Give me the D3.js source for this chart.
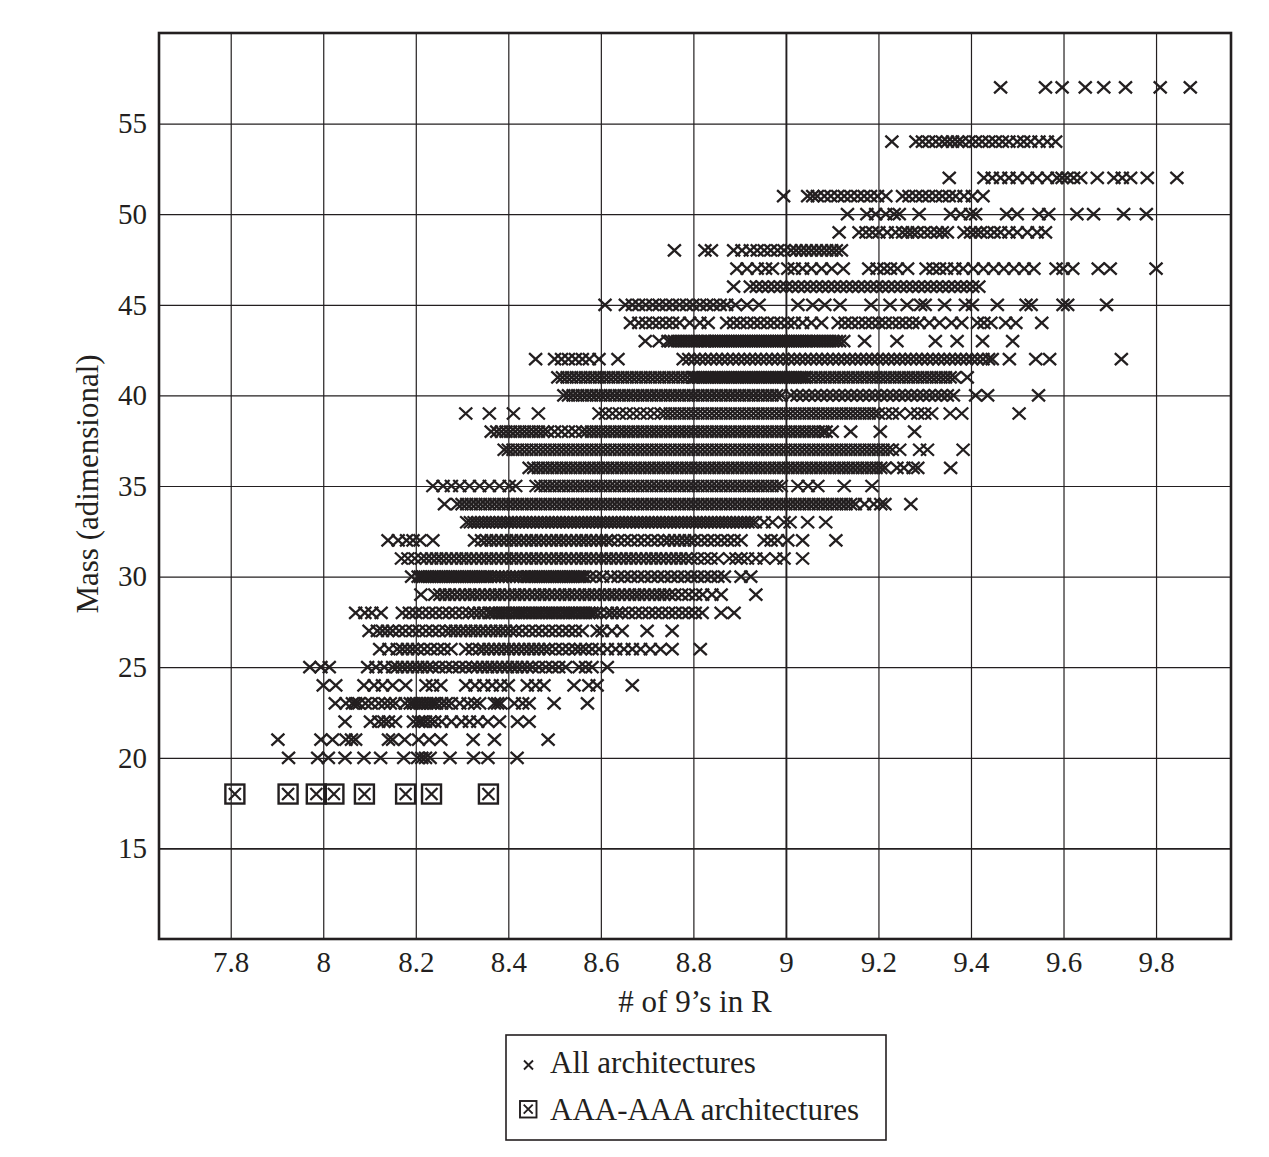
<!doctype html>
<html lang="en">
<head>
    <meta charset="UTF-8">
    <title>Mass vs # of 9's in R</title>
    <script src="https://d3js.org/d3.v7.min.js"></script>
    <style>
        body { margin: 0; background: #fff; }
    </style>
</head>
<body>
<div id="chart-area"></div>

<script>

// tick labels
const xTicks = [7.8, 8, 8.2, 8.4, 8.6, 8.8, 9, 9.2, 9.4, 9.6, 9.8];
const yTicks = [15, 20, 25, 30, 35, 40, 45, 50, 55];

// mass rows (integer masses) and the "# of 9's" of every architecture on that row
const massLevels = [20, 21, 22, 23, 24, 25, 26, 27, 28, 29, 30, 31, 32, 33, 34, 35, 36, 37, 38, 39,
    40, 41, 42, 43, 44, 45, 46, 47, 48, 49, 50, 51, 52, 54, 57];

const ninesPerMass = [
    // 20
    [7.925, 7.988, 8.011, 8.047, 8.088, 8.124, 8.174, 8.204, 8.213, 8.221, 8.231, 8.274, 8.325, 8.356, 8.419],
    // 21
    [7.902, 7.995, 8.02, 8.049, 8.061, 8.07, 8.141, 8.15, 8.176, 8.206, 8.229, 8.254, 8.324, 8.37, 8.486],
    // 22
    [8.047, 8.102, 8.12, 8.131, 8.141, 8.156, 8.195, 8.206, 8.213, 8.221, 8.231, 8.241, 8.256, 8.277, 8.299,
        8.316, 8.334, 8.356, 8.381, 8.42, 8.445],
    // 23
    [8.026, 8.049, 8.063, 8.07, 8.077, 8.091, 8.104, 8.12, 8.133, 8.145, 8.156, 8.177, 8.188, 8.195, 8.202,
        8.209, 8.216, 8.224, 8.231, 8.238, 8.245, 8.256, 8.266, 8.277, 8.295, 8.313, 8.327, 8.338, 8.37, 8.377,
        8.384, 8.413, 8.431, 8.445, 8.499, 8.571],
    // 24
    [8.0, 8.027, 8.088, 8.11, 8.128, 8.15, 8.178, 8.222, 8.236, 8.254, 8.308, 8.328, 8.347, 8.365, 8.383,
        8.4, 8.441, 8.459, 8.477, 8.542, 8.574, 8.592, 8.668],
    // 25
    [7.971, 7.995, 8.013, 8.096, 8.114, 8.132, 8.15, 8.16, 8.171, 8.182, 8.193, 8.204, 8.214, 8.225, 8.236,
        8.25, 8.265, 8.279, 8.294, 8.308, 8.322, 8.333, 8.344, 8.355, 8.365, 8.376, 8.387, 8.398, 8.409, 8.419,
        8.43, 8.441, 8.452, 8.466, 8.481, 8.495, 8.509, 8.524, 8.553, 8.567, 8.581, 8.614],
    // 26
    [8.122, 8.142, 8.16, 8.171, 8.182, 8.193, 8.204, 8.218, 8.232, 8.247, 8.261, 8.276, 8.308, 8.322, 8.337,
        8.347, 8.358, 8.369, 8.38, 8.391, 8.401, 8.412, 8.423, 8.434, 8.445, 8.455, 8.466, 8.477, 8.488, 8.502,
        8.517, 8.531, 8.545, 8.556, 8.567, 8.581, 8.596, 8.614, 8.632, 8.65, 8.668, 8.686, 8.707, 8.729, 8.754,
        8.815],
    // 27
    [8.099, 8.117, 8.128, 8.139, 8.15, 8.164, 8.178, 8.193, 8.207, 8.222, 8.236, 8.25, 8.265, 8.276, 8.286,
        8.297, 8.308, 8.319, 8.329, 8.34, 8.351, 8.362, 8.373, 8.383, 8.394, 8.405, 8.416, 8.43, 8.445, 8.459,
        8.473, 8.488, 8.502, 8.517, 8.531, 8.545, 8.56, 8.592, 8.603, 8.624, 8.646, 8.7, 8.754],
    // 28
    [8.07, 8.09, 8.105, 8.125, 8.171, 8.186, 8.2, 8.214, 8.229, 8.243, 8.258, 8.272, 8.286, 8.301, 8.315,
        8.326, 8.337, 8.347, 8.358, 8.365, 8.373, 8.38, 8.387, 8.394, 8.401, 8.409, 8.416, 8.423, 8.43, 8.437,
        8.445, 8.452, 8.459, 8.466, 8.473, 8.481, 8.488, 8.495, 8.502, 8.509, 8.517, 8.524, 8.531, 8.538, 8.545,
        8.553, 8.56, 8.567, 8.574, 8.581, 8.588, 8.599, 8.614, 8.624, 8.635, 8.646, 8.66, 8.675, 8.689, 8.704,
        8.718, 8.732, 8.747, 8.761, 8.776, 8.79, 8.804, 8.819, 8.86, 8.888],
    // 29
    [8.211, 8.241, 8.252, 8.263, 8.273, 8.284, 8.295, 8.306, 8.317, 8.327, 8.338, 8.349, 8.36, 8.371, 8.381,
        8.392, 8.403, 8.414, 8.424, 8.435, 8.446, 8.457, 8.468, 8.478, 8.489, 8.5, 8.511, 8.522, 8.532, 8.543,
        8.554, 8.565, 8.575, 8.586, 8.597, 8.608, 8.619, 8.629, 8.64, 8.651, 8.662, 8.673, 8.683, 8.694, 8.705,
        8.716, 8.727, 8.737, 8.748, 8.76, 8.775, 8.79, 8.805, 8.82, 8.84, 8.86, 8.935],
    // 30
    [8.191, 8.205, 8.21, 8.215, 8.22, 8.225, 8.23, 8.235, 8.24, 8.245, 8.25, 8.255, 8.26, 8.265, 8.27,
        8.275, 8.28, 8.285, 8.29, 8.295, 8.3, 8.305, 8.31, 8.315, 8.32, 8.325, 8.33, 8.335, 8.34, 8.345,
        8.35, 8.355, 8.362, 8.37, 8.378, 8.386, 8.394, 8.402, 8.41, 8.418, 8.426, 8.434, 8.44, 8.445, 8.45,
        8.455, 8.46, 8.465, 8.47, 8.475, 8.48, 8.485, 8.49, 8.495, 8.5, 8.505, 8.51, 8.515, 8.52, 8.525,
        8.53, 8.535, 8.54, 8.545, 8.55, 8.555, 8.56, 8.565, 8.576, 8.59, 8.604, 8.622, 8.637, 8.651, 8.665,
        8.68, 8.694, 8.709, 8.723, 8.737, 8.752, 8.766, 8.781, 8.795, 8.809, 8.824, 8.838, 8.853, 8.867, 8.903,
        8.924],
    // 31
    [8.169, 8.183, 8.198, 8.212, 8.223, 8.234, 8.245, 8.255, 8.266, 8.277, 8.288, 8.299, 8.309, 8.32, 8.331,
        8.342, 8.353, 8.363, 8.374, 8.385, 8.396, 8.407, 8.417, 8.428, 8.439, 8.45, 8.46, 8.471, 8.482, 8.493,
        8.504, 8.514, 8.525, 8.536, 8.547, 8.558, 8.568, 8.579, 8.59, 8.601, 8.612, 8.622, 8.633, 8.644, 8.655,
        8.665, 8.676, 8.687, 8.698, 8.709, 8.719, 8.73, 8.741, 8.752, 8.763, 8.773, 8.784, 8.795, 8.809, 8.824,
        8.838, 8.853, 8.878, 8.892, 8.903, 8.917, 8.935, 8.953, 8.978, 8.996, 9.036],
    // 32
    [8.14, 8.162, 8.18, 8.194, 8.209, 8.237, 8.327, 8.342, 8.353, 8.363, 8.374, 8.385, 8.396, 8.407, 8.417,
        8.428, 8.439, 8.45, 8.46, 8.471, 8.482, 8.493, 8.504, 8.514, 8.525, 8.536, 8.547, 8.558, 8.568, 8.579,
        8.59, 8.601, 8.612, 8.622, 8.637, 8.651, 8.665, 8.68, 8.694, 8.709, 8.723, 8.737, 8.748, 8.759, 8.77,
        8.781, 8.791, 8.802, 8.817, 8.831, 8.845, 8.86, 8.874, 8.888, 8.903, 8.953, 8.968, 8.982, 9.004, 9.036,
        9.108],
    // 33
    [8.31, 8.318, 8.326, 8.334, 8.342, 8.35, 8.358, 8.366, 8.374, 8.382, 8.39, 8.398, 8.406, 8.414, 8.422,
        8.43, 8.438, 8.446, 8.454, 8.462, 8.47, 8.478, 8.486, 8.494, 8.502, 8.51, 8.518, 8.526, 8.534, 8.542,
        8.55, 8.558, 8.566, 8.574, 8.582, 8.59, 8.598, 8.606, 8.614, 8.622, 8.63, 8.638, 8.646, 8.654, 8.662,
        8.67, 8.678, 8.686, 8.694, 8.702, 8.71, 8.718, 8.726, 8.734, 8.742, 8.75, 8.758, 8.766, 8.774, 8.782,
        8.79, 8.798, 8.806, 8.814, 8.822, 8.83, 8.838, 8.846, 8.854, 8.862, 8.87, 8.878, 8.886, 8.894, 8.902,
        8.91, 8.918, 8.926, 8.934, 8.953, 8.971, 8.996, 9.009, 9.047, 9.086],
    // 34
    [8.262, 8.29, 8.3, 8.31, 8.32, 8.33, 8.34, 8.35, 8.36, 8.37, 8.38, 8.39, 8.4, 8.41, 8.42,
        8.43, 8.44, 8.45, 8.46, 8.47, 8.48, 8.49, 8.5, 8.51, 8.52, 8.53, 8.54, 8.55, 8.56, 8.57,
        8.58, 8.59, 8.6, 8.61, 8.62, 8.63, 8.64, 8.65, 8.66, 8.67, 8.68, 8.69, 8.7, 8.71, 8.72,
        8.73, 8.74, 8.75, 8.76, 8.77, 8.78, 8.79, 8.8, 8.81, 8.82, 8.83, 8.84, 8.85, 8.86, 8.87,
        8.88, 8.89, 8.9, 8.91, 8.92, 8.93, 8.94, 8.95, 8.96, 8.97, 8.98, 8.99, 9, 9.01, 9.02,
        9.03, 9.04, 9.05, 9.06, 9.07, 9.08, 9.09, 9.1, 9.11, 9.12, 9.13, 9.14, 9.15, 9.17, 9.19,
        9.205, 9.214, 9.27],
    // 35
    [8.237, 8.259, 8.277, 8.295, 8.316, 8.338, 8.359, 8.381, 8.402, 8.416, 8.46, 8.47, 8.48, 8.49, 8.5,
        8.51, 8.52, 8.53, 8.54, 8.55, 8.56, 8.57, 8.58, 8.59, 8.6, 8.61, 8.62, 8.63, 8.64, 8.65,
        8.66, 8.67, 8.68, 8.69, 8.7, 8.71, 8.72, 8.73, 8.74, 8.75, 8.76, 8.77, 8.78, 8.79, 8.8,
        8.81, 8.82, 8.83, 8.84, 8.85, 8.86, 8.87, 8.88, 8.89, 8.9, 8.91, 8.92, 8.93, 8.94, 8.95,
        8.96, 8.97, 8.98, 8.99, 9.026, 9.048, 9.069, 9.126, 9.186],
    // 36
    [8.445, 8.455, 8.465, 8.475, 8.485, 8.495, 8.505, 8.515, 8.525, 8.535, 8.545, 8.555, 8.565, 8.575, 8.585,
        8.595, 8.605, 8.615, 8.625, 8.635, 8.645, 8.655, 8.665, 8.675, 8.685, 8.695, 8.705, 8.715, 8.725, 8.735,
        8.745, 8.755, 8.765, 8.775, 8.785, 8.795, 8.805, 8.815, 8.825, 8.835, 8.845, 8.855, 8.865, 8.875, 8.885,
        8.895, 8.905, 8.915, 8.925, 8.935, 8.945, 8.955, 8.965, 8.975, 8.985, 8.995, 9.005, 9.015, 9.025, 9.035,
        9.045, 9.055, 9.065, 9.075, 9.085, 9.095, 9.105, 9.115, 9.125, 9.135, 9.145, 9.155, 9.165, 9.175, 9.185,
        9.195, 9.205, 9.214, 9.24, 9.255, 9.275, 9.285, 9.356],
    // 37
    [8.391, 8.4, 8.41, 8.42, 8.43, 8.44, 8.45, 8.46, 8.47, 8.48, 8.49, 8.5, 8.51, 8.52, 8.53,
        8.54, 8.55, 8.56, 8.57, 8.58, 8.59, 8.6, 8.61, 8.62, 8.63, 8.64, 8.65, 8.66, 8.67, 8.68,
        8.69, 8.7, 8.71, 8.72, 8.73, 8.74, 8.75, 8.76, 8.77, 8.78, 8.79, 8.8, 8.81, 8.82, 8.83,
        8.84, 8.85, 8.86, 8.87, 8.88, 8.89, 8.9, 8.91, 8.92, 8.93, 8.94, 8.95, 8.96, 8.97, 8.98,
        8.99, 9, 9.01, 9.02, 9.03, 9.04, 9.05, 9.06, 9.07, 9.08, 9.09, 9.1, 9.11, 9.12, 9.13,
        9.14, 9.15, 9.16, 9.17, 9.18, 9.19, 9.2, 9.21, 9.22, 9.23, 9.246, 9.289, 9.306, 9.383],
    // 38
    [8.363, 8.375, 8.385, 8.395, 8.405, 8.415, 8.425, 8.435, 8.445, 8.455, 8.465, 8.475, 8.485, 8.5, 8.515,
        8.53, 8.545, 8.56, 8.57, 8.58, 8.59, 8.6, 8.61, 8.62, 8.63, 8.64, 8.65, 8.66, 8.67, 8.68,
        8.69, 8.7, 8.71, 8.72, 8.73, 8.74, 8.75, 8.76, 8.77, 8.78, 8.79, 8.8, 8.81, 8.82, 8.83,
        8.84, 8.85, 8.86, 8.87, 8.88, 8.89, 8.9, 8.91, 8.92, 8.93, 8.94, 8.95, 8.96, 8.97, 8.98,
        8.99, 9, 9.01, 9.02, 9.03, 9.04, 9.05, 9.06, 9.07, 9.08, 9.087, 9.1, 9.14, 9.204, 9.278],
    // 39
    [8.308, 8.359, 8.411, 8.465, 8.596, 8.61, 8.625, 8.64, 8.655, 8.67, 8.685, 8.7, 8.715, 8.73, 8.74,
        8.75, 8.76, 8.77, 8.78, 8.79, 8.8, 8.81, 8.82, 8.83, 8.84, 8.85, 8.86, 8.87, 8.88, 8.89,
        8.9, 8.91, 8.92, 8.93, 8.94, 8.95, 8.96, 8.97, 8.98, 8.99, 9, 9.01, 9.02, 9.03, 9.04,
        9.05, 9.06, 9.07, 9.08, 9.09, 9.1, 9.11, 9.12, 9.13, 9.14, 9.15, 9.16, 9.17, 9.18, 9.19,
        9.2, 9.215, 9.23, 9.245, 9.27, 9.285, 9.3, 9.315, 9.355, 9.38, 9.504],
    // 40
    [8.52, 8.53, 8.54, 8.55, 8.56, 8.57, 8.58, 8.59, 8.6, 8.61, 8.62, 8.63, 8.64, 8.65, 8.66,
        8.67, 8.68, 8.69, 8.7, 8.71, 8.72, 8.73, 8.74, 8.75, 8.76, 8.77, 8.78, 8.79, 8.8, 8.81,
        8.82, 8.83, 8.84, 8.85, 8.86, 8.87, 8.88, 8.89, 8.9, 8.91, 8.92, 8.93, 8.94, 8.95, 8.96,
        8.97, 8.98, 8.99, 9.011, 9.024, 9.037, 9.05, 9.063, 9.076, 9.089, 9.102, 9.115, 9.128, 9.141, 9.154,
        9.167, 9.18, 9.193, 9.206, 9.219, 9.232, 9.245, 9.258, 9.271, 9.284, 9.297, 9.31, 9.323, 9.336, 9.349,
        9.362, 9.41, 9.436, 9.546],
    // 41
    [8.507, 8.517, 8.527, 8.537, 8.547, 8.557, 8.567, 8.577, 8.587, 8.597, 8.607, 8.617, 8.627, 8.637, 8.647,
        8.657, 8.667, 8.677, 8.687, 8.697, 8.707, 8.717, 8.727, 8.737, 8.747, 8.757, 8.767, 8.777, 8.787, 8.797,
        8.8, 8.805, 8.81, 8.815, 8.82, 8.825, 8.83, 8.835, 8.84, 8.845, 8.85, 8.855, 8.86, 8.865, 8.87,
        8.875, 8.88, 8.885, 8.89, 8.895, 8.9, 8.905, 8.91, 8.915, 8.92, 8.925, 8.93, 8.935, 8.94, 8.945,
        8.95, 8.955, 8.96, 8.965, 8.97, 8.975, 8.98, 8.985, 8.99, 8.995, 9, 9.005, 9.01, 9.015, 9.02,
        9.025, 9.03, 9.035, 9.04, 9.045, 9.055, 9.065, 9.075, 9.085, 9.095, 9.105, 9.115, 9.125, 9.135, 9.145,
        9.155, 9.165, 9.175, 9.185, 9.195, 9.205, 9.215, 9.225, 9.235, 9.245, 9.255, 9.265, 9.275, 9.285, 9.295,
        9.305, 9.315, 9.325, 9.335, 9.345, 9.355, 9.365, 9.392],
    // 42
    [8.459, 8.5, 8.515, 8.53, 8.545, 8.56, 8.575, 8.596, 8.637, 8.778, 8.79, 8.802, 8.814, 8.826, 8.838,
        8.85, 8.862, 8.874, 8.886, 8.898, 8.91, 8.922, 8.934, 8.946, 8.958, 8.97, 8.982, 8.994, 9.006, 9.018,
        9.03, 9.042, 9.054, 9.066, 9.078, 9.09, 9.102, 9.114, 9.126, 9.138, 9.15, 9.162, 9.174, 9.186, 9.198,
        9.21, 9.222, 9.234, 9.246, 9.258, 9.27, 9.282, 9.294, 9.306, 9.318, 9.33, 9.342, 9.354, 9.366, 9.378,
        9.39, 9.402, 9.414, 9.426, 9.438, 9.446, 9.483, 9.54, 9.57, 9.725],
    // 43
    [8.696, 8.726, 8.745, 8.752, 8.759, 8.766, 8.773, 8.78, 8.787, 8.794, 8.801, 8.808, 8.815, 8.822, 8.825,
        8.83, 8.835, 8.84, 8.845, 8.85, 8.855, 8.86, 8.865, 8.87, 8.875, 8.88, 8.885, 8.89, 8.895, 8.9,
        8.905, 8.91, 8.915, 8.92, 8.925, 8.93, 8.935, 8.94, 8.945, 8.95, 8.955, 8.96, 8.965, 8.97, 8.975,
        8.98, 8.985, 8.99, 8.995, 9, 9.005, 9.01, 9.015, 9.02, 9.025, 9.03, 9.035, 9.04, 9.045, 9.05,
        9.055, 9.06, 9.067, 9.074, 9.081, 9.088, 9.095, 9.102, 9.109, 9.116, 9.125, 9.17, 9.24, 9.323, 9.37,
        9.425, 9.49],
    // 44
    [8.664, 8.682, 8.697, 8.712, 8.726, 8.741, 8.755, 8.77, 8.792, 8.814, 8.832, 8.872, 8.887, 8.901, 8.916,
        8.931, 8.945, 8.96, 8.974, 8.989, 9.004, 9.018, 9.036, 9.055, 9.077, 9.113, 9.128, 9.142, 9.157, 9.172,
        9.186, 9.201, 9.215, 9.23, 9.245, 9.259, 9.274, 9.288, 9.31, 9.332, 9.358, 9.38, 9.414, 9.428, 9.443,
        9.475, 9.497, 9.553],
    // 45
    [8.609, 8.653, 8.668, 8.682, 8.697, 8.712, 8.726, 8.741, 8.755, 8.77, 8.785, 8.799, 8.814, 8.829, 8.843,
        8.858, 8.872, 8.891, 8.916, 8.942, 9.026, 9.058, 9.084, 9.117, 9.184, 9.225, 9.262, 9.291, 9.301, 9.343,
        9.388, 9.403, 9.457, 9.519, 9.53, 9.599, 9.609, 9.693],
    // 46
    [8.887, 8.923, 8.936, 8.949, 8.962, 8.975, 8.988, 9.001, 9.014, 9.027, 9.04, 9.053, 9.066, 9.079, 9.092,
        9.105, 9.118, 9.131, 9.144, 9.157, 9.17, 9.183, 9.196, 9.209, 9.222, 9.235, 9.248, 9.261, 9.274, 9.287,
        9.3, 9.313, 9.326, 9.339, 9.352, 9.365, 9.378, 9.391, 9.404, 9.417],
    // 47
    [8.894, 8.916, 8.938, 8.956, 8.971, 9.004, 9.018, 9.036, 9.055, 9.077, 9.099, 9.124, 9.179, 9.197, 9.212,
        9.226, 9.241, 9.263, 9.303, 9.318, 9.332, 9.347, 9.365, 9.383, 9.405, 9.427, 9.449, 9.471, 9.493, 9.515,
        9.536, 9.584, 9.599, 9.62, 9.675, 9.701, 9.8],
    // 48
    [8.759, 8.825, 8.839, 8.887, 8.905, 8.923, 8.938, 8.953, 8.967, 8.982, 8.996, 9.011, 9.022, 9.033, 9.044,
        9.055, 9.066, 9.077, 9.088, 9.099, 9.109, 9.12],
    // 49
    [9.115, 9.158, 9.173, 9.187, 9.201, 9.219, 9.237, 9.252, 9.263, 9.273, 9.284, 9.299, 9.313, 9.327, 9.338,
        9.349, 9.385, 9.399, 9.41, 9.421, 9.435, 9.45, 9.464, 9.482, 9.5, 9.522, 9.543, 9.561],
    // 50
    [9.133, 9.175, 9.194, 9.216, 9.234, 9.245, 9.288, 9.356, 9.378, 9.399, 9.41, 9.477, 9.5, 9.547, 9.568,
        9.629, 9.665, 9.73, 9.779],
    // 51
    [8.995, 9.047, 9.058, 9.068, 9.083, 9.097, 9.112, 9.126, 9.14, 9.155, 9.169, 9.183, 9.198, 9.216, 9.252,
        9.266, 9.281, 9.295, 9.309, 9.324, 9.338, 9.353, 9.367, 9.385, 9.403, 9.426],
    // 52
    [9.353, 9.428, 9.446, 9.464, 9.482, 9.5, 9.522, 9.543, 9.565, 9.586, 9.597, 9.608, 9.622, 9.637, 9.673,
        9.709, 9.727, 9.745, 9.781, 9.845],
    // 54
    [9.229, 9.281, 9.295, 9.309, 9.324, 9.338, 9.349, 9.36, 9.371, 9.381, 9.396, 9.41, 9.424, 9.439, 9.453,
        9.468, 9.482, 9.5, 9.514, 9.529, 9.547, 9.565, 9.583],
    // 57
    [9.464, 9.561, 9.597, 9.647, 9.687, 9.734, 9.809, 9.874],
];

// AAA-AAA architectures, all at mass 18
const aaaMass = 18;
const aaaNines = [7.809, 7.924, 7.985, 8.023, 8.089, 8.178, 8.234, 8.357];

const legendLabels = ['All architectures', 'AAA-AAA architectures'];

const ink = '#231f20';
const serif = '"Liberation Serif", "DejaVu Serif", serif';

const margin = { top: 33, right: 38, bottom: 218, left: 159 };
const chartW = 1269 - margin.left - margin.right;
const chartH = 1157 - margin.top - margin.bottom;

const svg = d3.select('#chart-area')
    .append('svg')
    .attr('width', chartW + margin.left + margin.right)
    .attr('height', chartH + margin.top + margin.bottom);

const g = svg.append('g')
    .attr('transform', `translate(${margin.left},${margin.top})`);

const x = d3.scaleLinear()
    .domain([7.645, 9.962])
    .range([0, chartW]);
const y = d3.scaleLinear()
    .domain([10, 60])
    .range([chartH, 0]);

// grid + tick labels
const xAxisG = g.append('g')
    .attr('transform', `translate(0,${chartH})`)
    .call(d3.axisBottom(x).tickValues(xTicks).tickFormat(d => String(d))
        .tickSizeInner(-chartH).tickSizeOuter(0).tickPadding(12));
const yAxisG = g.append('g')
    .call(d3.axisLeft(y).tickValues(yTicks).tickFormat(d => String(d))
        .tickSizeInner(-chartW).tickSizeOuter(0).tickPadding(12));

[xAxisG, yAxisG].forEach(a => {
    a.select('.domain').remove();
    a.selectAll('.tick line').attr('stroke', ink).attr('stroke-width', 1.2);
    a.selectAll('.tick text')
        .attr('fill', ink)
        .style('font-family', serif)
        .style('font-size', '29px');
});
xAxisG.selectAll('.tick line').filter(d => d === 9).attr('stroke-width', 1.9);
yAxisG.selectAll('.tick line').filter(d => d === 15).attr('stroke-width', 1.9);

// points
const points = massLevels.flatMap((m, i) => ninesPerMass[i].map(n => ({ n, m })));
const cross = 'M-6.5,-6L6.5,6M-6.5,6L6.5,-6';

g.append('g')
    .selectAll('path')
    .data(points)
    .join('path')
    .attr('transform', d => `translate(${x(d.n)},${y(d.m)})`)
    .attr('d', cross)
    .attr('fill', 'none')
    .attr('stroke', ink)
    .attr('stroke-width', 2.3);

const aaa = g.append('g')
    .selectAll('g')
    .data(aaaNines)
    .join('g')
    .attr('transform', d => `translate(${x(d)},${y(aaaMass)})`);
aaa.append('rect')
    .attr('x', -9.5).attr('y', -9.5).attr('width', 19).attr('height', 19)
    .attr('fill', 'none').attr('stroke', ink).attr('stroke-width', 2.4);
aaa.append('path')
    .attr('d', 'M-6,-6L6,6M-6,6L6,-6')
    .attr('fill', 'none').attr('stroke', ink).attr('stroke-width', 2.2);

// frame
g.append('rect')
    .attr('width', chartW).attr('height', chartH)
    .attr('fill', 'none').attr('stroke', ink).attr('stroke-width', 2.6);

// axis titles
svg.append('text')
    .attr('x', 695).attr('y', 1012)
    .attr('text-anchor', 'middle')
    .attr('fill', ink)
    .style('font-family', serif).style('font-size', '31px')
    .text('# of 9\u2019s in R');

svg.append('text')
    .attr('transform', 'translate(98,484) rotate(-90)')
    .attr('text-anchor', 'middle')
    .attr('fill', ink)
    .style('font-family', serif).style('font-size', '31px')
    .text('Mass (adimensional)');

// legend
const legend = svg.append('g');
legend.append('rect')
    .attr('x', 506).attr('y', 1035).attr('width', 380).attr('height', 105)
    .attr('fill', '#fff').attr('stroke', ink).attr('stroke-width', 1.6);
legend.append('path')
    .attr('transform', 'translate(528.5,1065)')
    .attr('d', 'M-4.5,-4.5L4.5,4.5M-4.5,4.5L4.5,-4.5')
    .attr('fill', 'none').attr('stroke', ink).attr('stroke-width', 1.9);
legend.append('rect')
    .attr('x', 520).attr('y', 1101).attr('width', 16.5).attr('height', 16.5)
    .attr('fill', 'none').attr('stroke', ink).attr('stroke-width', 1.9);
legend.append('path')
    .attr('transform', 'translate(528.2,1109.2)')
    .attr('d', 'M-4.5,-4.5L4.5,4.5M-4.5,4.5L4.5,-4.5')
    .attr('fill', 'none').attr('stroke', ink).attr('stroke-width', 1.9);
legend.selectAll('text.lbl')
    .data(legendLabels)
    .join('text')
    .attr('class', 'lbl')
    .attr('x', 550)
    .attr('y', (d, i) => [1073, 1120][i])
    .attr('fill', ink)
    .style('font-family', serif).style('font-size', '31px')
    .text(d => d);

</script>

</body>
</html>
